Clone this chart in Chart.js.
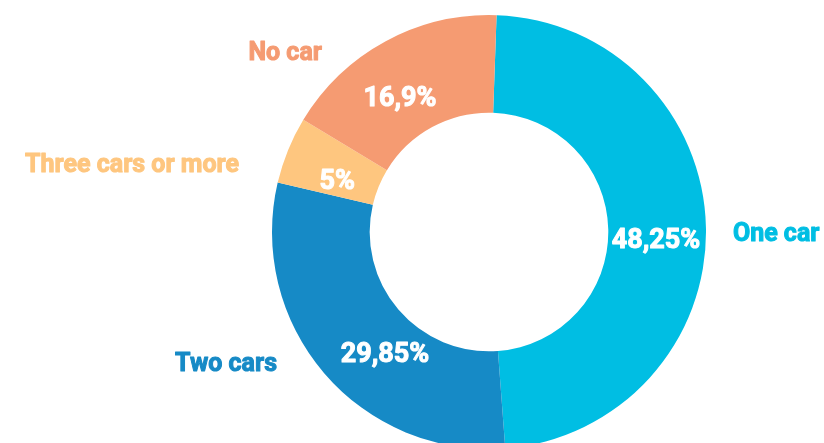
<!DOCTYPE html>
<html>
<head>
<meta charset="utf-8">
<script src="https://cdn.jsdelivr.net/npm/chart.js@4"></script>
<style>
  html, body { margin: 0; padding: 0; background: #fff; overflow: hidden; }
  #wrap { width: 824px; height: 443px; position: relative; }
</style>
</head>
<body>
<div id="wrap"><canvas id="carChart"></canvas></div>
<script>
const categories = ["One car", "Two cars", "Three cars or more", "No car"];
const shares = [48.25, 29.85, 5, 16.9];
const valueLabels = ["48,25%", "29,85%", "5%", "16,9%"];

const sliceColors = ["#00bee3", "#168ac6", "#fec67f", "#f59b72"];

// where the white % text sits: angle nudge (deg, clockwise) from slice middle, radius as fraction of outer
const valuePlacement = [
    { nudge: 3.5, radius: 0.77 },
    { nudge: -8.7, radius: 0.735 },
    { nudge: -3, radius: 0.74 },
    { nudge: -4.9, radius: 0.747 }
];
// category names outside the ring, offsets from centre in units of the outer radius
const namePlacement = [
    { dx: 1.124, dy: 0.002, align: "left" },
    { dx: -0.977, dy: 0.599, align: "right" },
    { dx: -1.152, dy: -0.318, align: "right" },
    { dx: -0.770, dy: -0.834, align: "right" }
];

function heavyText(ctx, text, x, y, color) {
    ctx.fillStyle = color;
    ctx.strokeStyle = color;
    ctx.lineWidth = 1;
    ctx.lineJoin = "round";
    ctx.strokeText(text, x, y);
    ctx.fillText(text, x, y);
}

const sliceLabels = {
    id: "sliceLabels",
    afterDatasetsDraw(chart) {
        const ctx = chart.ctx;
        const meta = chart.getDatasetMeta(0);
        ctx.save();
        meta.data.forEach((arc, i) => {
            const p = arc.getProps(["x", "y", "startAngle", "endAngle", "outerRadius"], true);
            const R = p.outerRadius;

            // value inside the slice
            const vp = valuePlacement[i];
            const a = (p.startAngle + p.endAngle) / 2 + vp.nudge * Math.PI / 180;
            const vx = p.x + Math.cos(a) * R * vp.radius;
            const vy = p.y + Math.sin(a) * R * vp.radius;
            const vSize = 27;
            ctx.font = "bold " + vSize + "px Roboto";
            ctx.textAlign = "center";
            ctx.textBaseline = "alphabetic";
            heavyText(ctx, valueLabels[i], vx, vy + vSize * 0.355, "#ffffff");

            // category name outside
            const np = namePlacement[i];
            const nSize = 25;
            ctx.font = "bold " + nSize + "px Roboto";
            ctx.textAlign = np.align;
            heavyText(ctx, categories[i], p.x + np.dx * R, p.y + np.dy * R + nSize * 0.355, sliceColors[i]);
        });
        ctx.restore();
    }
};

new Chart(document.getElementById("carChart"), {
    type: "doughnut",
    data: {
        labels: categories,
        datasets: [{
            data: shares,
            backgroundColor: sliceColors,
            borderWidth: 0,
            hoverOffset: 0,
            clip: false
        }]
    },
    options: {
        responsive: true,
        maintainAspectRatio: false,
        animation: false,
        rotation: 2,
        radius: 217,
        cutout: 116,
        layout: { padding: { left: 154, top: 21 } },
        plugins: {
            legend: { display: false },
            tooltip: { enabled: false }
        }
    },
    plugins: [sliceLabels]
});
</script>
</body>
</html>
